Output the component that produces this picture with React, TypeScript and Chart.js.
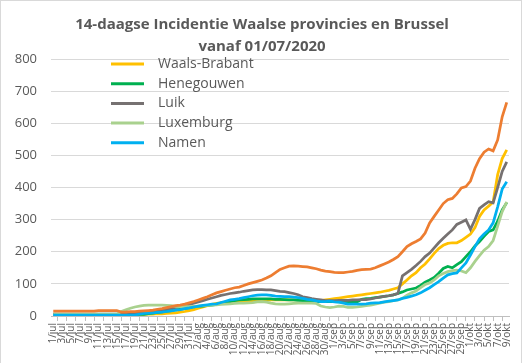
import React, { useEffect, useRef } from "react";
import { Chart, registerables } from "chart.js";

Chart.register(...registerables);

// ---- categories: 1/jul .. 9/okt (one per day) ----
const monthNames: string[] = ["jul", "aug", "sep", "okt"];
const monthDays: number[] = [31, 31, 30, 9];
const dayLabels: string[] = [];
monthNames.forEach((m, mi) => {
  for (let d = 1; d <= monthDays[mi]; d++) dayLabels.push(`${d}/${m}`);
});

const titleLines: string[] = ["14-daagse Incidentie Waalse provincies en Brussel", "vanaf 01/07/2020"];
const yTicks: number[] = [0, 100, 200, 300, 400, 500, 600, 700, 800];

// ---- series (14-day incidence) ----
const waalsBrabant: number[] = [
  5, 5, 5, 5, 5, 5, 5, 5, 5, 5,
  5, 5, 5, 5, 5, 5, 5, 5, 5, 5,
  5, 6, 6, 7, 7, 8, 9, 10, 12, 14,
  17, 20, 24, 28, 32, 36, 39, 41, 43, 45,
  46, 47, 47, 47, 47, 48, 48, 49, 50, 50,
  50, 50, 50, 50, 50, 50, 49, 48, 47, 48,
  50, 52, 54, 56, 58, 60, 62, 64, 66, 68,
  70, 72, 74, 77, 80, 84, 88, 100, 112, 125,
  135, 150, 162, 178, 195, 210, 220, 226, 228, 228,
  235, 245, 255, 275, 310, 330, 342, 355, 440, 490,
  517,
];
const henegouwen: number[] = [
  5, 5, 5, 5, 5, 5, 5, 5, 5, 5,
  5, 5, 5, 5, 5, 5, 5, 5, 5, 5,
  5, 7, 9, 11, 13, 15, 17, 19, 21, 23,
  25, 28, 30, 31, 33, 34, 36, 40, 43, 45,
  48, 50, 51, 52, 53, 53, 53, 53, 53, 52,
  52, 51, 50, 50, 49, 48, 47, 46, 45, 45,
  45, 45, 45, 44, 44, 44, 44, 44, 52, 54,
  55, 57, 59, 61, 63, 66, 70, 75, 81, 84,
  87, 95, 105, 112, 120, 133, 148, 154, 150, 160,
  169, 185, 200, 218, 232, 248, 263, 268, 295, 330,
  353,
];
const luik: number[] = [
  6, 6, 6, 6, 6, 6, 6, 6, 6, 6,
  6, 6, 6, 6, 6, 6, 6, 8, 9, 10,
  11, 12, 14, 17, 19, 21, 24, 27, 30, 33,
  36, 40, 44, 48, 52, 56, 60, 64, 67, 70,
  72, 74, 77, 79, 81, 82, 82, 81, 81, 79,
  77, 76, 73, 70, 66, 60, 57, 54, 52, 50,
  48, 48, 48, 49, 49, 49, 50, 50, 51, 51,
  53, 56, 59, 61, 63, 66, 70, 125, 135, 145,
  157, 170, 185, 196, 212, 228, 242, 255, 268, 285,
  292, 299, 270, 300, 335, 346, 356, 352, 400, 450,
  480,
];
const luxemburg: number[] = [
  6, 6, 6, 6, 6, 6, 6, 6, 6, 6,
  6, 6, 6, 6, 6, 14, 19, 24, 28, 31,
  33, 34, 34, 34, 34, 33, 32, 30, 29, 29,
  29, 30, 31, 32, 33, 34, 35, 36, 37, 38,
  39, 40, 40, 41, 42, 44, 45, 43, 40, 38,
  37, 37, 38, 39, 40, 40, 40, 40, 39, 31,
  28, 26, 28, 31, 30, 27, 27, 28, 30, 32,
  34, 37, 40, 43, 45, 48, 50, 55, 65, 72,
  78, 88, 98, 103, 112, 125, 132, 138, 141, 143,
  140, 135, 150, 170, 188, 205, 216, 235, 280, 325,
  355,
];
const namen: number[] = [
  3, 3, 3, 3, 3, 3, 3, 3, 3, 3,
  3, 3, 3, 3, 3, 3, 3, 3, 3, 6,
  8, 9, 10, 11, 12, 14, 16, 18, 20, 23,
  25, 28, 31, 33, 35, 37, 38, 42, 46, 50,
  52, 54, 57, 60, 63, 65, 66, 66, 64, 62,
  61, 60, 60, 59, 57, 55, 52, 50, 47, 45,
  45, 46, 44, 43, 40, 37, 37, 37, 37, 38,
  40, 41, 42, 44, 46, 48, 50, 55, 58, 62,
  66, 72, 80, 88, 98, 107, 118, 128, 132, 134,
  150, 165, 190, 216, 240, 255, 268, 290, 340, 395,
  418,
];
const brussel: number[] = [
  15, 15, 15, 15, 15, 15, 15, 15, 15, 15,
  17, 17, 17, 17, 17, 12, 12, 14, 14, 15,
  16, 17, 18, 21, 23, 26, 29, 32, 34, 37,
  41, 45, 50, 55, 60, 66, 72, 76, 80, 84,
  88, 90, 95, 100, 104, 108, 112, 118, 125, 135,
  145, 150, 155, 156, 155, 154, 153, 150, 147, 143,
  140, 138, 136, 135, 135, 137, 139, 142, 144, 145,
  146, 150, 156, 162, 168, 176, 185, 200, 216, 225,
  232, 240, 258, 290, 310, 330, 350, 362, 366, 380,
  399, 403, 420, 460, 490, 510, 520, 514, 548, 620,
  665,
];

const seriesNames: string[] = ["Waals-Brabant", "Henegouwen", "Luik", "Luxemburg", "Namen", "Brussel"];
const seriesColors: string[] = ["#FFC000", "#00B050", "#767171", "#A9D18E", "#00B0F0", "#ED7D31"];
const seriesValues: number[][] = [waalsBrabant, henegouwen, luik, luxemburg, namen, brussel];
const legendCount = 5;

const TEXT = "#595959";
const FONT = '"Open Sans", "DejaVu Sans", sans-serif';

const framePlugin = {
  id: "frame",
  beforeDraw(chart: any) {
    const { ctx, width, height } = chart;
    ctx.save();
    ctx.fillStyle = "#ffffff";
    ctx.fillRect(0, 0, width, height);
    ctx.strokeStyle = "#d9d9d9";
    ctx.lineWidth = 1;
    ctx.strokeRect(0.5, 0.5, width - 6, height + 2);
    ctx.restore();
  },
};

const titlePlugin = {
  id: "titleLines",
  afterDraw(chart: any) {
    const { ctx } = chart;
    ctx.save();
    ctx.fillStyle = TEXT;
    ctx.font = `bold 15px ${FONT}`;
    ctx.textAlign = "center";
    ctx.textBaseline = "middle";
    ctx.fillText(titleLines[0], 262, 25);
    ctx.fillText(titleLines[1], 262, 47);
    ctx.restore();
  },
};

const legendPlugin = {
  id: "insideLegend",
  afterDraw(chart: any) {
    const { ctx } = chart;
    ctx.save();
    ctx.font = `14px ${FONT}`;
    ctx.fillStyle = TEXT;
    ctx.textBaseline = "middle";
    ctx.textAlign = "left";
    chart.data.datasets.slice(0, legendCount).forEach((ds: any, i: number) => {
      const y = 64 + i * 19.7;
      ctx.strokeStyle = ds.borderColor;
      ctx.lineWidth = 3;
      ctx.beginPath();
      ctx.moveTo(111, y);
      ctx.lineTo(144, y);
      ctx.stroke();
      ctx.fillText(ds.label, 158, y);
    });
    ctx.restore();
  },
};

export default function App() {
  const canvasRef = useRef<HTMLCanvasElement | null>(null);

  useEffect(() => {
    if (!canvasRef.current) return;
    const datasets = seriesValues.map((vals, i) => ({
      label: seriesNames[i],
      data: vals,
      borderColor: seriesColors[i],
      backgroundColor: seriesColors[i],
      borderWidth: 2.75,
      pointRadius: 0,
      tension: 0,
      fill: false,
      order: seriesValues.length - 1 - i,
    }));
    const chart = new Chart(canvasRef.current, {
      type: "line",
      data: { labels: dayLabels, datasets },
      plugins: [framePlugin, titlePlugin, legendPlugin],
      options: {
        animation: false,
        responsive: false,
        maintainAspectRatio: false,
        devicePixelRatio: 1,
        layout: { padding: { top: 59, right: 18, bottom: 0, left: 0 } },
        plugins: {
          legend: { display: false },
          title: { display: false },
          tooltip: { enabled: false },
        },
        scales: {
          x: {
            type: "category",
            offset: true,
            border: { display: true, color: "#bfbfbf", width: 1 },
            grid: {
              display: true,
              drawOnChartArea: false,
              drawTicks: true,
              tickLength: 5,
              color: "#bfbfbf",
              offset: true,
            },
            ticks: {
              autoSkip: false,
              maxRotation: 90,
              minRotation: 90,
              padding: 2,
              color: TEXT,
              font: { family: FONT, size: 10 },
              callback: (_v: any, idx: number) => (idx % 2 === 0 ? dayLabels[idx] : null),
            },
            afterFit: (scale: any) => {
              scale.height = 47;
            },
          },
          y: {
            min: 0,
            max: 800,
            afterBuildTicks: (scale: any) => {
              scale.ticks = yTicks.map((v) => ({ value: v }));
            },
            border: { display: false },
            grid: { color: "#d9d9d9", lineWidth: 1, drawTicks: false },
            ticks: {
              padding: 14,
              color: TEXT,
              font: { family: FONT, size: 13 },
            },
            afterFit: (scale: any) => {
              scale.width = 51;
            },
          },
        },
      },
    });
    return () => chart.destroy();
  }, []);

  return (
    <div style={{ position: "fixed", left: 0, top: 0, width: 527, height: 363, background: "#fff" }}>
      <canvas ref={canvasRef} width={527} height={363} style={{ width: 527, height: 363, display: "block" }} />
    </div>
  );
}
